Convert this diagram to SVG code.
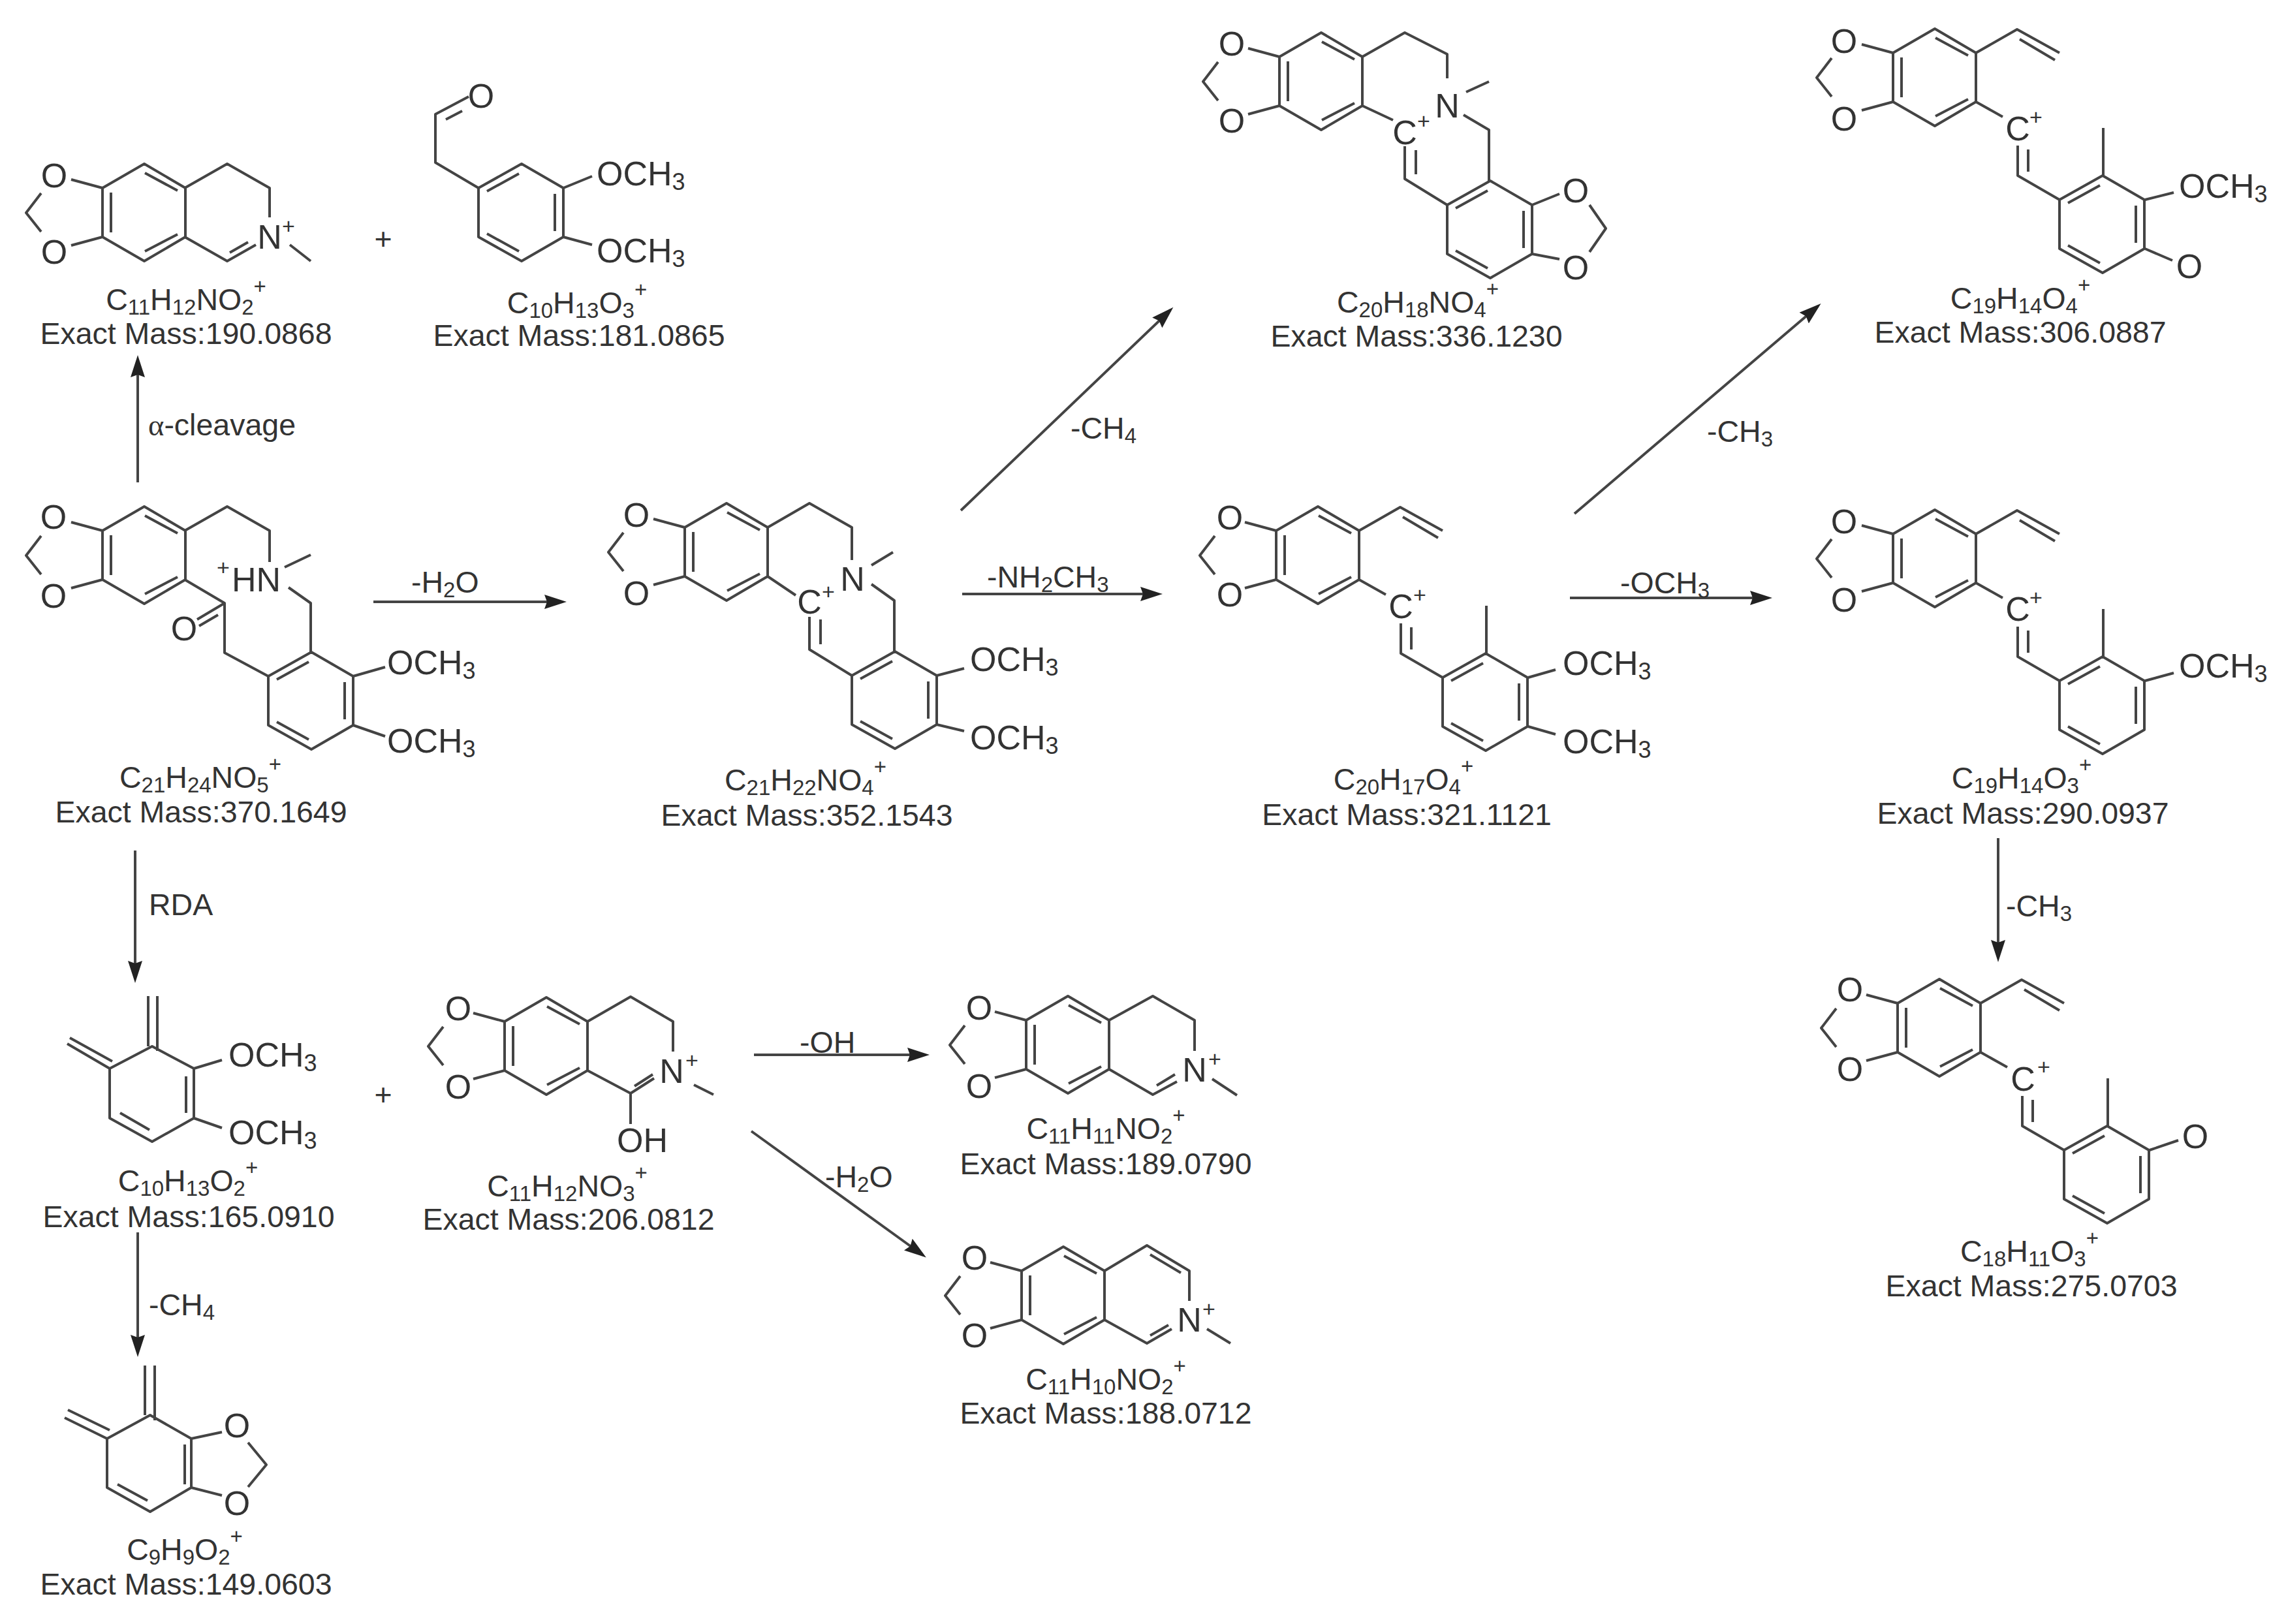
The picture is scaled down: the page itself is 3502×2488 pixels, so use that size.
<svg xmlns="http://www.w3.org/2000/svg" width="3502" height="2488" viewBox="0 0 3502 2488">
<style>
text{font-family:"Liberation Sans",Arial,sans-serif;fill:#333}
.a{font-size:52px;text-anchor:middle}
.o{font-size:52px}
.t{font-size:46.5px;text-anchor:middle}
.l{font-size:46.5px}
.s{font-size:33px}
.ss{font-size:36px}
.p{font-size:34px;text-anchor:middle}
.g{font-family:"Liberation Serif",serif}
.b{fill:none;stroke:#444;stroke-width:4;stroke-linejoin:round}
.c{fill:none;stroke:#444;stroke-width:4}
</style>
<defs>
<marker id="ah" markerUnits="userSpaceOnUse" markerWidth="36" markerHeight="24" refX="28" refY="12" orient="auto" viewBox="0 0 36 24"><path d="M0 1L34 12L0 23L4 12Z" fill="#222"/></marker>
<path id="bd" class="b" d="M0 0L64-37L127 0V75L64 112L0 75ZM13 7V68M65-23L115 4M115 71L65 97M0 0L-48-13M0 75L-48 88M-94 8L-117 38L-94 67"/>
<path id="r" class="b" d="M0 0L66-37L130 0V75L66 112L0 75ZM13 5L62-22M117 9V66M13 70L62 97"/>
<g id="vc"><path class="b" d="M127 0L190-36L255 0M194-21L248 11M127 75L168 98M191 142V188L255 225M207 148V182M322 188V115"/><use href="#r" x="255" y="225"/></g>
</defs>
<rect width="3502" height="2488" fill="#fff"/>
<g id="connectors">
<path class="c" marker-end="url(#ah)" d="M211 739V550"/>
<path class="c" marker-end="url(#ah)" d="M572 922H862"/>
<path class="c" marker-end="url(#ah)" d="M207 1303V1500"/>
<path class="c" marker-end="url(#ah)" d="M211 1888V2073"/>
<path class="c" marker-end="url(#ah)" d="M1472 782L1793 475"/>
<path class="c" marker-end="url(#ah)" d="M1474 910H1775"/>
<path class="c" marker-end="url(#ah)" d="M2412 787L2785 469"/>
<path class="c" marker-end="url(#ah)" d="M2405 916H2709"/>
<path class="c" marker-end="url(#ah)" d="M3061 1284V1468"/>
<path class="c" marker-end="url(#ah)" d="M1155 1616H1418"/>
<path class="c" marker-end="url(#ah)" d="M1151 1733L1414 1923"/>
<text class="l" x="227" y="667"><tspan class="g">α</tspan>-cleavage</text>
<text class="l" x="630" y="908">-H<tspan class="s" dy="7">2</tspan><tspan dy="-7">O</tspan></text>
<text class="l" x="228" y="1402">RDA</text>
<text class="l" x="228" y="2015">-CH<tspan class="s" dy="7">4</tspan></text>
<text class="l" x="1640" y="672">-CH<tspan class="s" dy="7">4</tspan></text>
<text class="l" x="1512" y="900">-NH<tspan class="s" dy="7">2</tspan><tspan dy="-7">CH</tspan><tspan class="s" dy="7">3</tspan></text>
<text class="l" x="2615" y="677">-CH<tspan class="s" dy="7">3</tspan></text>
<text class="l" x="2482" y="909">-OCH<tspan class="s" dy="7">3</tspan></text>
<text class="l" x="3073" y="1404">-CH<tspan class="s" dy="7">3</tspan></text>
<text class="l" x="1225" y="1613">-OH</text>
<text class="l" x="1264" y="1819">-H<tspan class="s" dy="7">2</tspan><tspan dy="-7">O</tspan></text>
</g>
<g id="plus-1"><text class="t" x="587" y="382">+</text></g>
<g id="plus-2"><text class="t" x="587" y="1693">+</text></g>
<g id="node-a">
<use href="#bd" x="157" y="288"/>
<path class="b" d="M283 288L348 251L413 288V333M283 363L348 400L392 375M352 387L380 371M444 375L476 400"/>
<text class="a" x="83" y="287">O</text><text class="a" x="83" y="404">O</text><text class="a" x="413" y="381">N</text><text class="p" x="442" y="358">+</text>
<text class="t" x="285" y="475">C<tspan class="s" dy="7">11</tspan><tspan dy="-7">H</tspan><tspan class="s" dy="7">12</tspan><tspan dy="-7">NO</tspan><tspan class="s" dy="7">2</tspan><tspan class="s" dy="-32">+</tspan></text>
<text class="t" x="285" y="527">Exact Mass:190.0868</text>
</g>
<g id="node-b">
<use href="#r" x="733" y="288"/>
<path class="b" d="M733 288L667 249V175L718 148M683 183L708 170M863 288L907 270M863 363L907 375"/>
<text class="a" x="737" y="165">O</text><text class="o" x="914" y="284">OCH<tspan class="ss" dy="7">3</tspan></text><text class="o" x="914" y="402">OCH<tspan class="ss" dy="7">3</tspan></text>
<text class="t" x="884" y="480">C<tspan class="s" dy="7">10</tspan><tspan dy="-7">H</tspan><tspan class="s" dy="7">13</tspan><tspan dy="-7">O</tspan><tspan class="s" dy="7">3</tspan><tspan class="s" dy="-32">+</tspan></text>
<text class="t" x="887" y="530">Exact Mass:181.0865</text>
</g>
<g id="node-c">
<use href="#bd" x="157" y="813"/>
<use href="#r" x="411" y="1036"/>
<path class="b" d="M283 813L348 776L413 813V861M436 869L476 850M442 900L476 924V1000M283 888L344 924V1000L411 1036M344 924L302 949M334 942L305 959M541 1036L590 1022M541 1111L590 1128"/>
<text class="a" x="82" y="810">O</text><text class="a" x="82" y="931">O</text><text class="a" x="282" y="981">O</text>
<text class="o" x="355" y="906">HN</text><text class="p" x="342" y="881">+</text>
<text class="o" x="593" y="1033">OCH<tspan class="ss" dy="7">3</tspan></text><text class="o" x="593" y="1153">OCH<tspan class="ss" dy="7">3</tspan></text>
<text class="t" x="307" y="1207">C<tspan class="s" dy="7">21</tspan><tspan dy="-7">H</tspan><tspan class="s" dy="7">24</tspan><tspan dy="-7">NO</tspan><tspan class="s" dy="7">5</tspan><tspan class="s" dy="-32">+</tspan></text>
<text class="t" x="308" y="1260">Exact Mass:370.1649</text>
</g>
<g id="node-d">
<use href="#bd" x="1049" y="808"/>
<use href="#r" x="1305" y="1035"/>
<path class="b" d="M1176 808L1240 771L1305 808V858M1335 866L1368 846M1335 895L1370 920V998M1176 883L1219 912M1240 945V995L1305 1035M1257 949V987M1435 1035L1477 1024M1435 1110L1477 1120"/>
<text class="a" x="975" y="807">O</text><text class="a" x="975" y="927">O</text><text class="a" x="1306" y="905">N</text><text class="a" x="1240" y="940">C</text><text class="p" x="1269" y="918">+</text>
<text class="o" x="1486" y="1028">OCH<tspan class="ss" dy="7">3</tspan></text><text class="o" x="1486" y="1148">OCH<tspan class="ss" dy="7">3</tspan></text>
<text class="t" x="1234" y="1211">C<tspan class="s" dy="7">21</tspan><tspan dy="-7">H</tspan><tspan class="s" dy="7">22</tspan><tspan dy="-7">NO</tspan><tspan class="s" dy="7">4</tspan><tspan class="s" dy="-32">+</tspan></text>
<text class="t" x="1236" y="1265">Exact Mass:352.1543</text>
</g>
<g id="node-e">
<use href="#bd" x="1960" y="87"/>
<use href="#r" x="2217" y="314"/>
<path class="b" d="M2087 87L2152 50L2217 83V120M2246 141L2281 125M2242 176L2281 199V277M2087 162L2134 184M2152 224V274L2217 314M2169 230V267M2347 314L2389 297M2347 389L2389 397M2435 314L2460 350L2435 386"/>
<text class="a" x="1887" y="85">O</text><text class="a" x="1887" y="203">O</text><text class="a" x="2217" y="180">N</text><text class="a" x="2152" y="221">C</text><text class="p" x="2181" y="197">+</text><text class="a" x="2414" y="310">O</text><text class="a" x="2414" y="428">O</text>
<text class="t" x="2172" y="479">C<tspan class="s" dy="7">20</tspan><tspan dy="-7">H</tspan><tspan class="s" dy="7">18</tspan><tspan dy="-7">NO</tspan><tspan class="s" dy="7">4</tspan><tspan class="s" dy="-32">+</tspan></text>
<text class="t" x="2170" y="531">Exact Mass:336.1230</text>
</g>
<g id="node-f">
<use href="#bd" x="1955" y="813"/>
<use href="#vc" x="1955" y="813"/>
<path class="b" d="M2341 1038L2383 1026M2341 1113L2383 1125"/>
<text class="a" x="1884" y="811">O</text><text class="a" x="1884" y="929">O</text><text class="a" x="2146" y="947">C</text><text class="p" x="2175" y="923">+</text>
<text class="o" x="2394" y="1034">OCH<tspan class="ss" dy="7">3</tspan></text><text class="o" x="2394" y="1154">OCH<tspan class="ss" dy="7">3</tspan></text>
<text class="t" x="2150" y="1210">C<tspan class="s" dy="7">20</tspan><tspan dy="-7">H</tspan><tspan class="s" dy="7">17</tspan><tspan dy="-7">O</tspan><tspan class="s" dy="7">4</tspan><tspan class="s" dy="-32">+</tspan></text>
<text class="t" x="2155" y="1264">Exact Mass:321.1121</text>
</g>
<g id="node-g">
<use href="#bd" x="2900" y="81"/>
<use href="#vc" x="2900" y="81"/>
<path class="b" d="M3286 306L3330 295M3286 381L3328 399"/>
<text class="a" x="2825" y="81">O</text><text class="a" x="2825" y="200">O</text><text class="a" x="3091" y="215">C</text><text class="p" x="3119" y="191">+</text>
<text class="o" x="3338" y="303">OCH<tspan class="ss" dy="7">3</tspan></text><text class="a" x="3354" y="426">O</text>
<text class="t" x="3095" y="473">C<tspan class="s" dy="7">19</tspan><tspan dy="-7">H</tspan><tspan class="s" dy="7">14</tspan><tspan dy="-7">O</tspan><tspan class="s" dy="7">4</tspan><tspan class="s" dy="-32">+</tspan></text>
<text class="t" x="3095" y="525">Exact Mass:306.0887</text>
</g>
<g id="node-h">
<use href="#bd" x="2900" y="818"/>
<use href="#vc" x="2900" y="818"/>
<path class="b" d="M3286 1043L3330 1031"/>
<text class="a" x="2825" y="817">O</text><text class="a" x="2825" y="937">O</text><text class="a" x="3091" y="951">C</text><text class="p" x="3119" y="927">+</text>
<text class="o" x="3338" y="1038">OCH<tspan class="ss" dy="7">3</tspan></text>
<text class="t" x="3097" y="1208">C<tspan class="s" dy="7">19</tspan><tspan dy="-7">H</tspan><tspan class="s" dy="7">14</tspan><tspan dy="-7">O</tspan><tspan class="s" dy="7">3</tspan><tspan class="s" dy="-32">+</tspan></text>
<text class="t" x="3099" y="1262">Exact Mass:290.0937</text>
</g>
<g id="node-i">
<use href="#bd" x="2907" y="1537"/>
<use href="#vc" x="2907" y="1537"/>
<path class="b" d="M3293 1762L3337 1747"/>
<text class="a" x="2834" y="1534">O</text><text class="a" x="2834" y="1656">O</text><text class="a" x="3099" y="1671">C</text><text class="p" x="3131" y="1646">+</text><text class="a" x="3363" y="1759">O</text>
<text class="t" x="3109" y="1933">C<tspan class="s" dy="7">18</tspan><tspan dy="-7">H</tspan><tspan class="s" dy="7">11</tspan><tspan dy="-7">O</tspan><tspan class="s" dy="7">3</tspan><tspan class="s" dy="-32">+</tspan></text>
<text class="t" x="3112" y="1986">Exact Mass:275.0703</text>
</g>
<g id="node-j">
<path class="b" d="M233 1603L297 1637V1713L233 1749L168 1713V1637ZM285 1649V1705M184 1705L229 1731M227 1526V1603M241 1526V1610M168 1637L103 1599M172 1626L107 1590M297 1637L340 1624M297 1713L340 1728"/>
<text class="o" x="350" y="1634">OCH<tspan class="ss" dy="7">3</tspan></text><text class="o" x="350" y="1753">OCH<tspan class="ss" dy="7">3</tspan></text>
<text class="t" x="288" y="1825">C<tspan class="s" dy="7">10</tspan><tspan dy="-7">H</tspan><tspan class="s" dy="7">13</tspan><tspan dy="-7">O</tspan><tspan class="s" dy="7">2</tspan><tspan class="s" dy="-32">+</tspan></text>
<text class="t" x="289" y="1880">Exact Mass:165.0910</text>
</g>
<g id="node-k">
<path class="b" d="M230 2168L293 2204V2279L230 2316L164 2279V2204ZM283 2213V2274M180 2274L226 2299M222 2092V2168M237 2092V2176M164 2204L99 2172M168 2191L104 2160M293 2204L340 2194M293 2279L340 2291M380 2210L408 2244L380 2278"/>
<text class="a" x="363" y="2202">O</text><text class="a" x="363" y="2321">O</text>
<text class="t" x="283" y="2390">C<tspan class="s" dy="7">9</tspan><tspan dy="-7">H</tspan><tspan class="s" dy="7">9</tspan><tspan dy="-7">O</tspan><tspan class="s" dy="7">2</tspan><tspan class="s" dy="-32">+</tspan></text>
<text class="t" x="285" y="2443">Exact Mass:149.0603</text>
</g>
<g id="node-l">
<use href="#bd" x="773" y="1565"/>
<path class="b" d="M900 1565L966 1527L1031 1565V1611M900 1640L966 1675L1002 1652M972 1664L1000 1646M1063 1662L1093 1677M966 1675V1722"/>
<text class="a" x="702" y="1563">O</text><text class="a" x="702" y="1683">O</text><text class="a" x="1029" y="1659">N</text><text class="p" x="1060" y="1636">+</text><text class="o" x="945" y="1765">OH</text>
<text class="t" x="869" y="1833">C<tspan class="s" dy="7">11</tspan><tspan dy="-7">H</tspan><tspan class="s" dy="7">12</tspan><tspan dy="-7">NO</tspan><tspan class="s" dy="7">3</tspan><tspan class="s" dy="-32">+</tspan></text>
<text class="t" x="871" y="1884">Exact Mass:206.0812</text>
</g>
<g id="node-m">
<use href="#bd" x="1572" y="1563"/>
<path class="b" d="M1699 1563L1766 1526L1830 1563V1610M1699 1638L1766 1677L1803 1657M1772 1663L1800 1646M1857 1653L1895 1678"/>
<text class="a" x="1500" y="1562">O</text><text class="a" x="1500" y="1682">O</text><text class="a" x="1830" y="1657">N</text><text class="p" x="1861" y="1634">+</text>
<text class="t" x="1694" y="1745">C<tspan class="s" dy="7">11</tspan><tspan dy="-7">H</tspan><tspan class="s" dy="7">11</tspan><tspan dy="-7">NO</tspan><tspan class="s" dy="7">2</tspan><tspan class="s" dy="-32">+</tspan></text>
<text class="t" x="1694" y="1799">Exact Mass:189.0790</text>
</g>
<g id="node-n">
<use href="#bd" x="1565" y="1947"/>
<path class="b" d="M1692 1947L1757 1908L1822 1947V1993M1762 1922L1809 1950M1692 2022L1757 2058L1795 2036M1762 2046L1790 2030M1849 2036L1885 2058"/>
<text class="a" x="1493" y="1945">O</text><text class="a" x="1493" y="2064">O</text><text class="a" x="1822" y="2040">N</text><text class="p" x="1852" y="2017">+</text>
<text class="t" x="1694" y="2129">C<tspan class="s" dy="7">11</tspan><tspan dy="-7">H</tspan><tspan class="s" dy="7">10</tspan><tspan dy="-7">NO</tspan><tspan class="s" dy="7">2</tspan><tspan class="s" dy="-32">+</tspan></text>
<text class="t" x="1694" y="2181">Exact Mass:188.0712</text>
</g>
</svg>
